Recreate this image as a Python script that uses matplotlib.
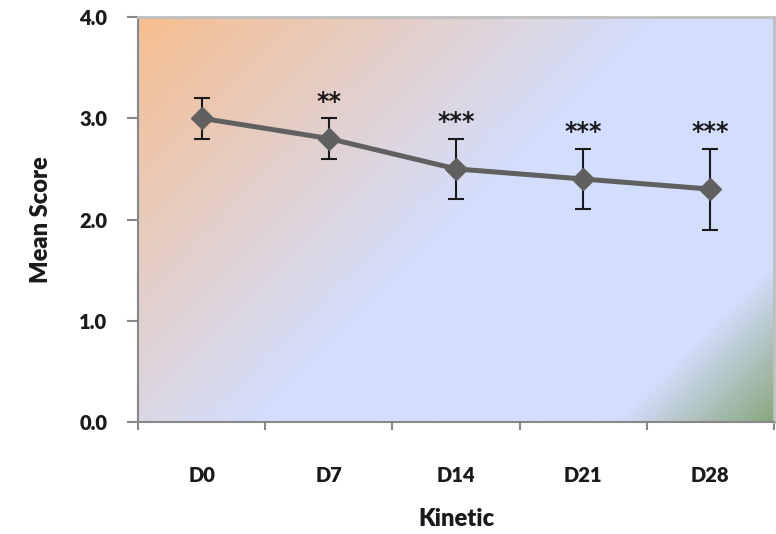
import numpy as np
import matplotlib
matplotlib.use("Agg")
import matplotlib.pyplot as plt
from matplotlib.colors import LinearSegmentedColormap

# values
days = ["D0", "D7", "D14", "D21", "D28"]
mean_score = [3.0, 2.8, 2.5, 2.4, 2.3]
err = [0.2, 0.2, 0.3, 0.3, 0.4]
stars = ["", "**", "***", "***", "***"]

plt.rcParams['font.family'] = ['Lato', 'DejaVu Sans']
txt = '#1a1a1a'

fig = plt.figure(figsize=(7.76, 5.34), dpi=100)
ax = fig.add_axes([138/776, 112/534, 636/776, 405/534])

# diagonal gradient background (orange -> blue -> green)
cmap = LinearSegmentedColormap.from_list("bg", [
    (0.0, (247/255, 190/255, 143/255)),
    (0.5, (211/255, 222/255, 252/255)),
    (0.85, (211/255, 222/255, 252/255)),
    (1.0, (138/255, 166/255, 126/255)),
])
gx, gy = np.meshgrid(np.linspace(0, 1, 400), np.linspace(1, 0, 300))
t = (gx * 636 + (1 - gy) * 405) / 1041
ax.imshow(t, cmap=cmap, extent=[0, 1, 0, 1], transform=ax.transAxes,
          aspect='auto', zorder=0, interpolation='bilinear')

x = np.arange(len(days))
ax.errorbar(x, mean_score, yerr=err, fmt='none', ecolor='#1a1a1a',
            elinewidth=1.5, capsize=6, capthick=1.5, zorder=2)
ax.plot(x, mean_score, color='#606060', lw=3.6, marker='D', ms=11,
        mec='#606060', mfc='#606060', zorder=3)

for xi, m, e, s in zip(x, mean_score, err, stars):
    if s:
        ax.annotate(s, (xi, m + e), xytext=(0, 3), textcoords='offset points',
                    ha='center', va='bottom', fontsize=17, color=txt,
                    fontweight='bold', family='DejaVu Sans')

ax.set_xlim(-0.5, 4.5)
ax.set_ylim(0, 4)
ax.set_yticks([0, 1, 2, 3, 4])
ax.set_yticklabels(["0.0", "1.0", "2.0", "3.0", "4.0"])
ax.set_xticks(x)
ax.set_xticklabels(days)
ax.set_xticks(np.arange(-0.5, 5, 1), minor=True)
ax.tick_params(axis='x', which='major', length=0, pad=32)
ax.tick_params(axis='x', which='minor', length=6, color='#888888', width=1.5)
ax.tick_params(axis='y', length=8, color='#888888', width=1.5, pad=14)
for lab in ax.get_xticklabels() + ax.get_yticklabels():
    lab.set_fontweight('heavy')
    lab.set_fontsize(14.5)
    lab.set_color(txt)

for side in ['left', 'bottom']:
    ax.spines[side].set_color('#888888')
    ax.spines[side].set_linewidth(1.5)
for side in ['top', 'right']:
    ax.spines[side].set_color('#bfbfbf')
    ax.spines[side].set_linewidth(2)

ax.set_xlabel("Kinetic", fontsize=17, fontweight='heavy', color=txt, labelpad=16)
ax.set_ylabel("Mean Score", fontsize=17, fontweight='heavy', color=txt, labelpad=20)

fig.savefig("out.png", dpi=100)
